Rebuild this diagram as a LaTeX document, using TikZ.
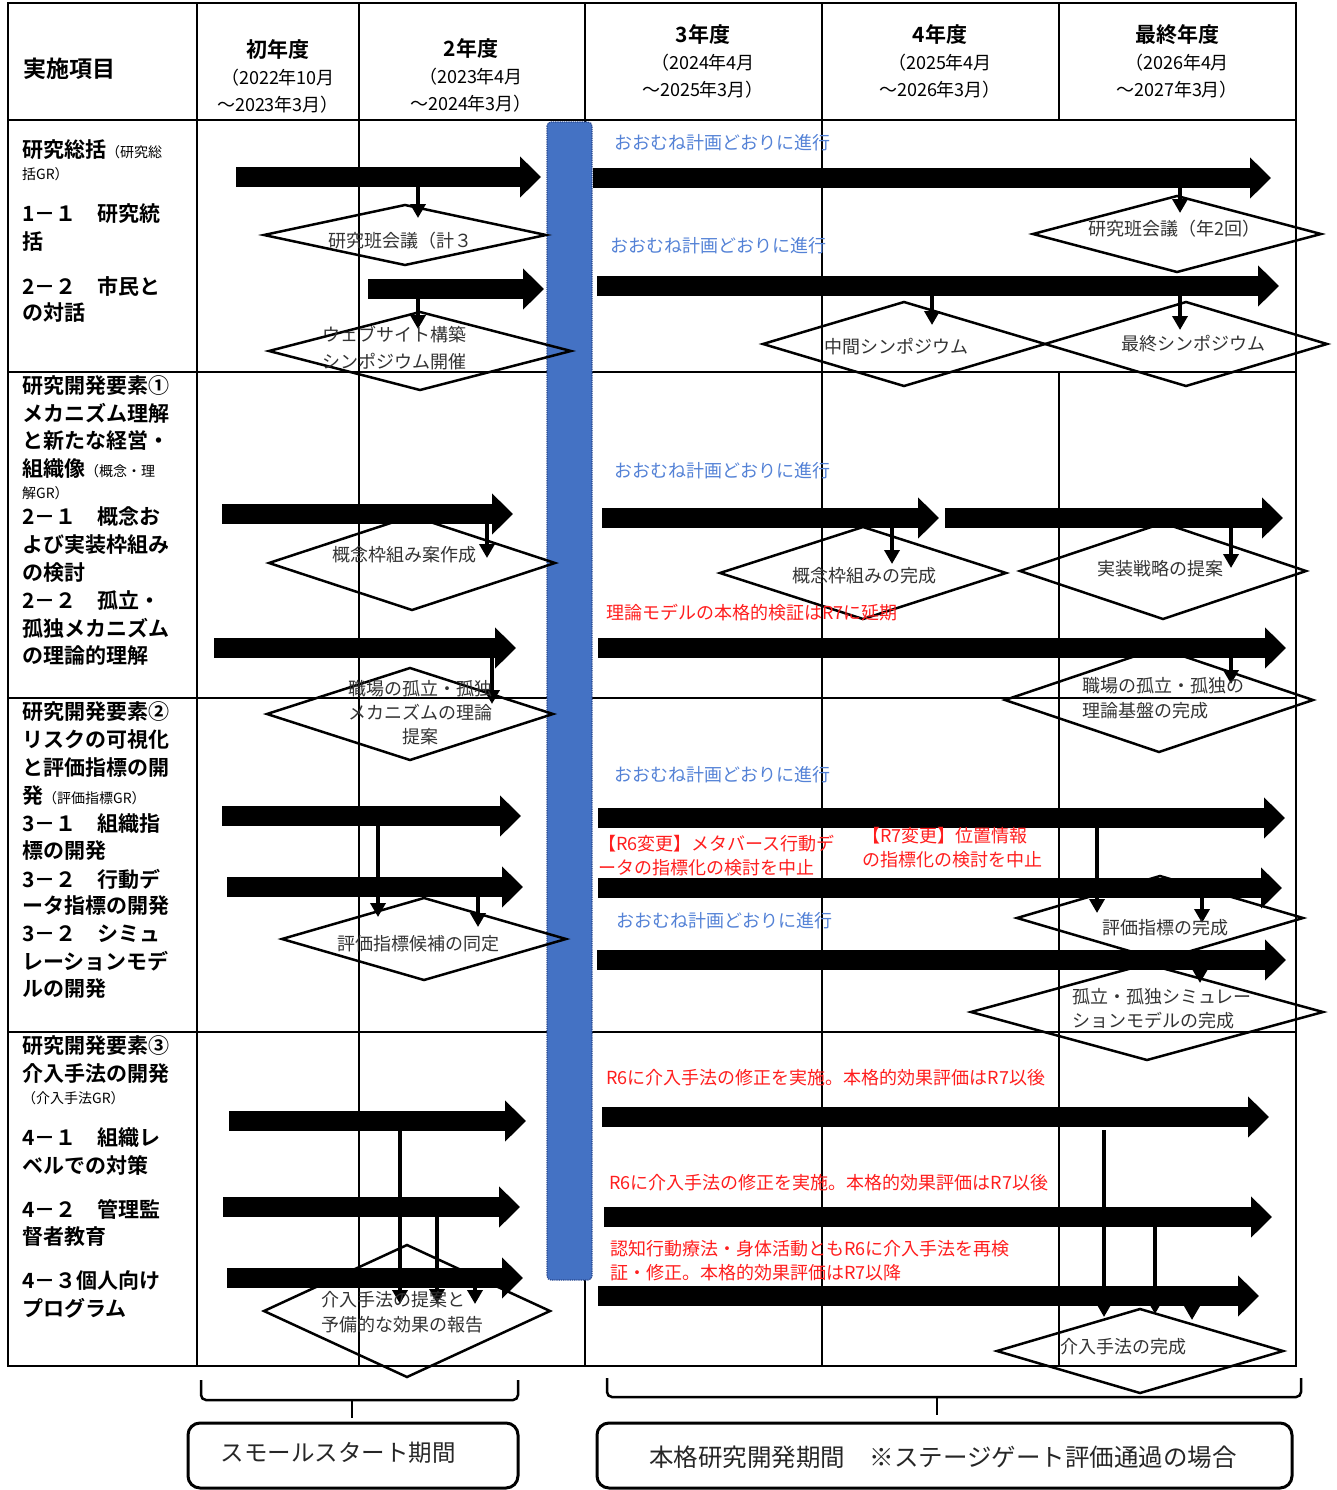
\documentclass[tikz,border=0pt]{standalone}
\usepackage{fontspec}
\setmainfont{Noto Sans CJK JP}[BoldFont={Noto Sans CJK JP Bold}]
\usetikzlibrary{arrows.meta}
\definecolor{barblue}{RGB}{68,114,196}
\definecolor{baredge}{RGB}{40,70,140}
\definecolor{txtblue}{RGB}{84,130,214}
\definecolor{txtred}{RGB}{255,30,30}
\newcounter{lnc}
\newcommand\lt[2]{\stepcounter{lnc}\node[lcol] (lc\thelnc) at (22,#1) {#2};}
\newcommand\sm[1]{{\mdseries\fontsize{14}{16}\selectfont #1}}
\newcommand\barrow[4]{\coordinate (#1s) at (#2,#4); \coordinate (#1e) at (#3,#4); \draw[bigarr] (#1s) -- (#1e);}
\newcommand\sarrow[4]{\coordinate (#1s) at (#2,#3); \coordinate (#1e) at (#2,#4); \draw[smarr] (#1s) -- (#1e);}
\newcommand\dmd[5]{\coordinate (#1) at (#2,#3); \draw[dia] (#2-#4,#3) -- (#2,#3-#5) -- (#2+#4,#3) -- (#2,#3+#5) -- cycle;}
\begin{document}
\begin{tikzpicture}[x=1pt,y=-1pt,
  gridl/.style={line width=2pt},
  bigarr/.style={line width=20pt, -{Triangle[length=21pt,width=40pt]}},
  smarr/.style={line width=4pt, -{Triangle[length=14pt,width=15pt]}},
  dia/.style={line width=2.5pt, line join=miter},
  lcol/.style={anchor=west, inner sep=0pt, font=\fontsize{21}{24}\selectfont\bfseries},
  hd/.style={align=center, inner sep=0pt, font=\fontsize{18}{27}\selectfont},
  dt/.style={inner sep=0pt, text=black!80, font=\fontsize{18}{25}\selectfont},
  dtl/.style={dt, anchor=west},
  bl/.style={anchor=west, inner sep=0pt, text=txtblue, font=\fontsize{18}{22}\selectfont},
  rd/.style={anchor=west, inner sep=0pt, text=txtred, font=\fontsize{18}{24}\selectfont},
  pbox/.style={draw, line width=3pt, rounded corners=12pt, inner sep=0pt},
  brace/.style={line width=2.5pt, rounded corners=5pt},
  ]
\useasboundingbox (0,0) rectangle (1336,1490);
% ---------- grid ----------
\draw[gridl, line width=2.5pt] (8,3) rectangle (1296,1366);
\foreach \yy in {120,372,698,1032} \draw[gridl] (8,\yy) -- (1296,\yy);
\foreach \xx in {197,359,585,822} \draw[gridl] (\xx,3) -- (\xx,1366);
\draw[gridl] (1059,3) -- (1059,120);
\draw[gridl] (1059,372) -- (1059,1366);
% ---------- header ----------
\node[anchor=west, inner sep=0pt, font=\fontsize{23}{26}\selectfont\bfseries] (h0) at (23,69) {実施項目};
\node[hd] (h1) at (278,76) {{\bfseries\fontsize{21}{27}\selectfont 初年度}\\（2022年10月\\～2023年3月）};
\node[hd] (h2) at (471,75) {{\bfseries\fontsize{21}{27}\selectfont 2年度}\\（2023年4月\\～2024年3月）};
\node[hd] (h3) at (703,61) {{\bfseries\fontsize{21}{27}\selectfont 3年度}\\（2024年4月\\～2025年3月）};
\node[hd] (h4) at (940,61) {{\bfseries\fontsize{21}{27}\selectfont 4年度}\\（2025年4月\\～2026年3月）};
\node[hd] (h5) at (1177,61) {{\bfseries\fontsize{21}{27}\selectfont 最終年度}\\（2026年4月\\～2027年3月）};
% ---------- left column ----------
\lt{150}{研究総括\sm{（研究総}}
\lt{174}{\sm{括GR）}}
\lt{214}{1－１　研究統}
\lt{242}{括}
\lt{286}{2－２　市民と}
\lt{313}{の対話}
\lt{386}{研究開発要素①}
\lt{413}{メカニズム理解}
\lt{441}{と新たな経営・}
\lt{469}{組織像\sm{（概念・理}}
\lt{493}{\sm{解GR）}}
\lt{517}{2－１　概念お}
\lt{545}{よび実装枠組み}
\lt{573}{の検討}
\lt{601}{2－２　孤立・}
\lt{628}{孤独メカニズム}
\lt{656}{の理論的理解}
\lt{712}{研究開発要素②}
\lt{740}{リスクの可視化}
\lt{768}{と評価指標の開}
\lt{796}{発\sm{（評価指標GR）}}
\lt{824}{3－１　組織指}
\lt{851}{標の開発}
\lt{879}{3－２　行動デ}
\lt{906}{ータ指標の開発}
\lt{934}{3－２　シミュ}
\lt{961}{レーションモデ}
\lt{989}{ルの開発}
\lt{1046}{研究開発要素③}
\lt{1074}{介入手法の開発}
\lt{1098}{\sm{（介入手法GR）}}
\lt{1138}{4－１　組織レ}
\lt{1165}{ベルでの対策}
\lt{1209}{4－２　管理監}
\lt{1237}{督者教育}
\lt{1281}{4－３個人向け}
\lt{1308}{プログラム}
% ---------- stage gate bar ----------
\draw[fill=barblue, draw=baredge, densely dotted, line width=1.2pt, rounded corners=4pt] (547,122) rectangle (592,1280);
% ---------- diamonds ----------
\dmd{d1}{405}{235}{141}{30}
\dmd{d2}{420}{351}{151}{39}
\dmd{d3}{1177}{234}{144}{38}
\dmd{d4}{904}{344}{141}{42}
\dmd{d5}{1186}{344}{141}{42}
\dmd{d6}{412}{563}{143}{47}
\dmd{d7}{410}{714}{143}{46}
\dmd{d8}{863}{573}{143}{46}
\dmd{d9}{1163}{571}{143}{48}
\dmd{d10}{1159}{700}{154}{52}
\dmd{d11}{424}{939}{142}{41}
\dmd{d12}{1160}{918}{143}{42}
\dmd{d13}{1147}{1012}{176}{48}
\dmd{d14}{407}{1311}{143}{66}
\dmd{d15}{1140}{1351}{143}{42}
% ---------- big arrows ----------
\barrow{a1}{236}{541}{177}
\barrow{a2}{368}{544}{289}
\barrow{a3}{593}{1271}{178}
\barrow{a4}{597}{1279}{286}
\barrow{a5}{222}{513}{514}
\barrow{a6}{214}{516}{648}
\barrow{a7}{602}{939}{518}
\barrow{a8}{945}{1283}{518}
\barrow{a9}{598}{1286}{648}
\barrow{a10}{222}{521}{816}
\barrow{a11}{227}{523}{887}
\barrow{a12}{598}{1285}{818}
\barrow{a13}{598}{1282}{888}
\barrow{a14}{597}{1286}{960}
\barrow{a15}{229}{526}{1121}
\barrow{a16}{223}{520}{1207}
\barrow{a17}{227}{523}{1278}
\barrow{a18}{602}{1269}{1117}
\barrow{a19}{604}{1272}{1217}
\barrow{a20}{598}{1259}{1296}
% ---------- small arrows ----------
\sarrow{s1}{418}{186}{218}
\sarrow{s2}{418}{297}{329}
\sarrow{s3}{1180}{187}{213}
\sarrow{s4}{932}{295}{325}
\sarrow{s5}{1180}{295}{330}
\sarrow{s6}{487}{523}{558}
\sarrow{s7}{492}{657}{704}
\sarrow{s8}{892}{527}{564}
\sarrow{s9}{1231}{527}{568}
\sarrow{s10}{1231}{657}{684}
\sarrow{s11}{378}{825}{917}
\sarrow{s12}{478}{896}{927}
\sarrow{s13}{1097}{827}{913}
\sarrow{s14}{1202}{897}{923}
\sarrow{s15}{1200}{969}{983}
\sarrow{s16}{400}{1130}{1304}
\sarrow{s17}{437}{1216}{1303}
\sarrow{s18}{475}{1287}{1304}
\sarrow{s19}{1104}{1130}{1317}
\sarrow{s20}{1155}{1226}{1314}
\sarrow{s21}{1192}{1304}{1320}
% ---------- diamond texts ----------
\node[dt] (t1) at (400,241) {研究班会議（計３};
\node[dt, align=center, font=\fontsize{18}{27}\selectfont] (t2) at (394,348) {ウェブサイト構築\\シンポジウム開催};
\node[dt] (t3) at (1174,229) {研究班会議（年2回）};
\node[dt] (t4) at (896,347) {中間シンポジウム};
\node[dt] (t5) at (1193,344) {最終シンポジウム};
\node[dt] (t6) at (404,555) {概念枠組み案作成};
\node[dt, align=center, font=\fontsize{18}{24}\selectfont] (t7) at (420,713) {職場の孤立・孤独\\メカニズムの理論\\提案};
\node[dt] (t8) at (864,576) {概念枠組みの完成};
\node[dt] (t9) at (1160,569) {実装戦略の提案};
\node[dtl, align=left] (t10) at (1082,698) {職場の孤立・孤独の\\理論基盤の完成};
\node[dt] (t11) at (418,944) {評価指標候補の同定};
\node[dt] (t12) at (1165,928) {評価指標の完成};
\node[dtl, align=left, font=\fontsize{18}{24}\selectfont] (t13) at (1072,1009) {孤立・孤独シミュレー\\ションモデルの完成};
\node[dtl, align=left] (t14) at (321,1312) {介入手法の提案と\\予備的な効果の報告};
\node[dtl] (t15) at (1060,1347) {介入手法の完成};
% ---------- blue notes ----------
\node[bl] (b1) at (614,143) {おおむね計画どおりに進行};
\node[bl] (b2) at (610,246) {おおむね計画どおりに進行};
\node[bl] (b3) at (614,471) {おおむね計画どおりに進行};
\node[bl] (b4) at (614,775) {おおむね計画どおりに進行};
\node[bl] (b5) at (616,921) {おおむね計画どおりに進行};
% ---------- red notes ----------
\node[rd] (r1) at (606,613) {理論モデルの本格的検証はR7に延期};
\node[rd, align=left] (r2) at (598,856) {【R6変更】メタバース行動デ\\ータの指標化の検討を中止};
\node[rd, align=left] (r3) at (862,848) {【R7変更】位置情報\\の指標化の検討を中止};
\node[rd] (r4) at (606,1078) {R6に介入手法の修正を実施。本格的効果評価はR7以後};
\node[rd] (r5) at (609,1183) {R6に介入手法の修正を実施。本格的効果評価はR7以後};
\node[rd, align=left] (r6) at (610,1261) {認知行動療法・身体活動ともR6に介入手法を再検\\証・修正。本格的効果評価はR7以降};
% ---------- braces and period boxes ----------
\draw[brace] (201,1380) -- (201,1400) -- (518,1400) -- (518,1380);
\draw[line width=2.5pt] (352,1399) -- (352,1418);
\draw[brace] (607,1378) -- (607,1397) -- (1301,1397) -- (1301,1378);
\draw[line width=2.5pt] (937,1396) -- (937,1415);
\node[pbox, minimum width=330pt, minimum height=65pt] (p1) at (353,1455.5) {};
\node[inner sep=0pt, font=\fontsize{23.5}{27}\selectfont, text=black!85] (p1t) at (338,1453) {スモールスタート期間};
\node[pbox, minimum width=695pt, minimum height=65pt] (p2) at (944.5,1455.5) {};
\node[inner sep=0pt, font=\fontsize{24.5}{28}\selectfont, text=black!85] (p2t) at (943,1457) {本格研究開発期間　※ステージゲート評価通過の場合};
\end{tikzpicture}
\end{document}
